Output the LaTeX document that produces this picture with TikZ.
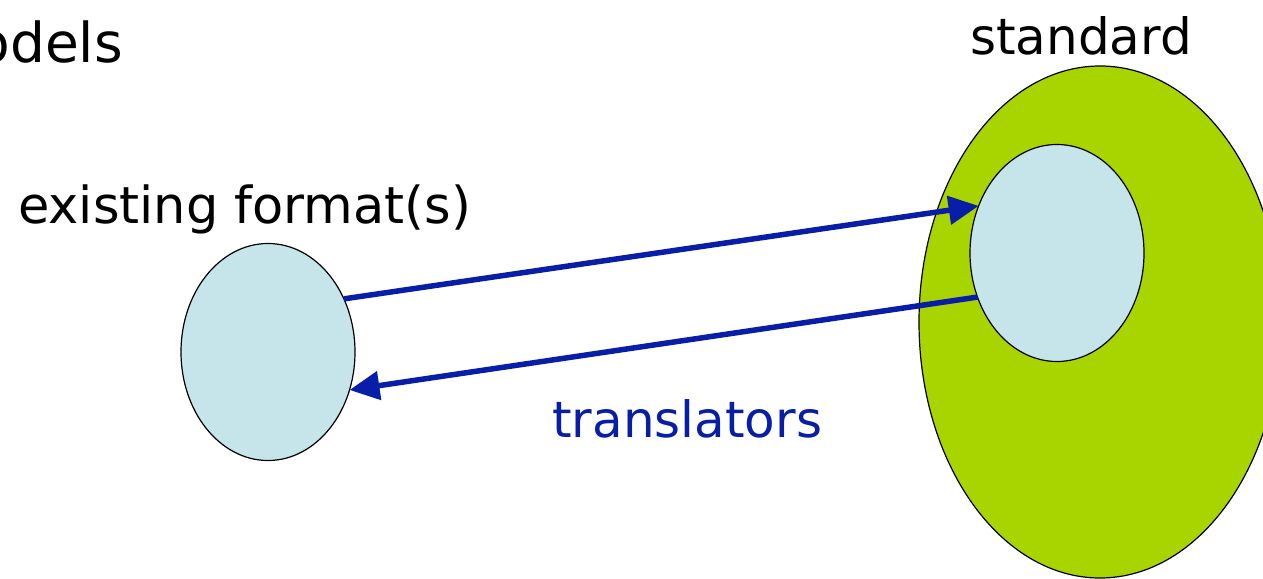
\documentclass[tikz,border=0pt]{standalone}
\usepackage{fontspec}
\setmainfont{DejaVu Sans}
\usetikzlibrary{shapes.geometric,arrows.meta}
\definecolor{lightblue}{RGB}{198,229,234}
\definecolor{stdgreen}{RGB}{168,212,0}
\definecolor{arrowblue}{RGB}{8,30,168}
\tikzset{
  blob/.style={ellipse,draw=black,line width=1.2pt,inner sep=0pt,outer sep=0pt},
  label/.style={inner sep=0pt,font=\fontsize{50}{60}\selectfont},
  conn/.style={draw=arrowblue,line width=5.5pt,-{Triangle[length=30pt,width=28pt]}}
}
\begin{document}
\begin{tikzpicture}[x=1pt,y=-1pt]
\useasboundingbox (0,0) rectangle (1263,578);
\clip (0,0) rectangle (1263,578);
% big standard ellipse
\node[blob,fill=stdgreen,minimum width=362pt,minimum height=512pt] (S) at (1100,322) {};
% inner ellipse
\node[blob,fill=lightblue,minimum width=174pt,minimum height=217pt] (I) at (1057,253) {};
% left ellipse
\node[blob,fill=lightblue,minimum width=174pt,minimum height=217pt] (L) at (268,352) {};
% texts
\node[label,anchor=base east,font=\fontsize{55}{66}\selectfont] (models) at (123,63) {models};
\node[label,anchor=base west,font=\fontsize{51}{61}\selectfont] (existing) at (18,223) {existing format(s)};
\node[label,anchor=base west] (standard) at (970,55) {standard};
\node[label,anchor=base west,text=arrowblue] (translators) at (552,437) {translators};
% arrows
\draw[conn] (L.35) -- (I.149);
\draw[conn] (I.209) -- (L.-25.7);
\end{tikzpicture}
\end{document}
